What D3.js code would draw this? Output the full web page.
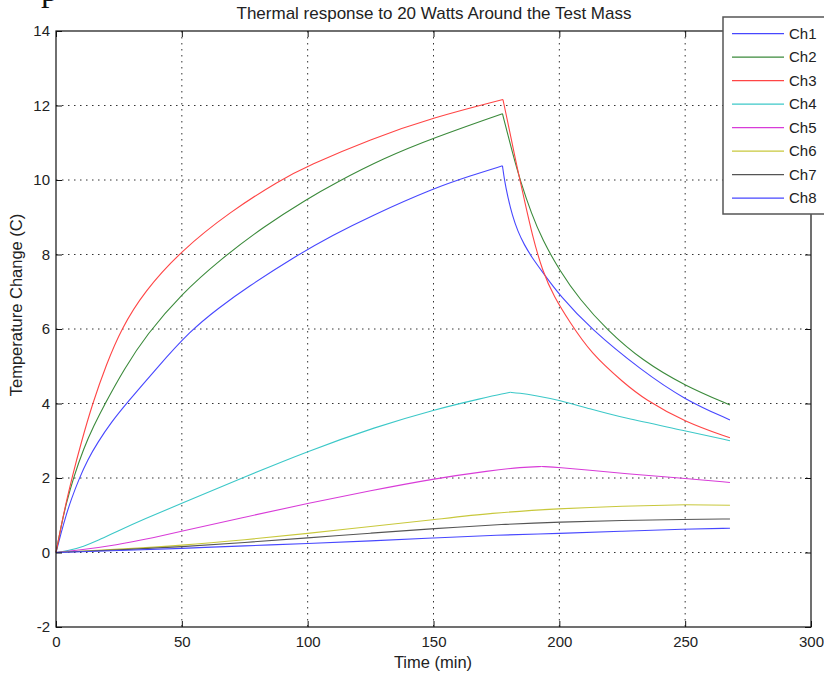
<!DOCTYPE html>
<meta charset="utf-8">
<style>
  body { margin: 0; background: #fff; }
  text { font-family: "Liberation Sans", Arial, sans-serif; fill: #222; }
</style>
<svg width="824" height="675"></svg>
<script src="https://d3js.org/d3.v7.min.js"></script>
<script>

// values: [time (min), temperature change (C)]
var ch1 = [[0,0],[2,0.52],[4,1.0],[6,1.42],[9.3,2.0],[12.5,2.48],[16.5,2.95],[22,3.5],[28,4.0],[40,4.95],[53.3,5.95],[64.7,6.57],[76,7.12],[95,7.95],[110,8.52],[125,9.03],[150,9.78],[165,10.12],[177.4,10.38],
           [178.2,9.99],[179.5,9.55],[181.3,9.05],[183.5,8.62],[186,8.27],[189,7.93],[193.3,7.53],[200,6.91],[212.5,6.0],[232.4,4.9],[250,4.09],[267.8,3.56]];
var ch2 = [[0,0],[2,0.7],[4,1.3],[6.9,2.0],[11,2.8],[15,3.4],[19.5,4.0],[27,4.92],[36,5.85],[50,6.95],[65,7.85],[82.5,8.75],[100,9.5],[111,9.92],[130,10.58],[150,11.13],[177.4,11.78],
           [181.3,10.75],[184.6,9.95],[188.9,9.1],[193.3,8.39],[200,7.58],[208,6.8],[219,5.97],[233,5.15],[250,4.47],[267.8,3.96]];
var ch3 = [[0,0],[2,0.7],[4,1.33],[6.3,2.0],[10,2.95],[14.5,4.0],[20,5.05],[25.9,6.0],[35,7.0],[49.7,8.1],[69.2,9.15],[89.1,10.0],[100,10.38],[125,11.1],[150,11.68],[177.6,12.16],
           [180,11.4],[183,10.4],[186,9.5],[189.3,8.5],[193.3,7.55],[198,6.85],[204,6.2],[212.5,5.35],[225.7,4.55],[233.7,4.12],[250,3.5],[267.8,3.08]];
var ch4 = [[0,0],[5,0.05],[10.9,0.16],[17,0.33],[24,0.56],[35,0.9],[50,1.32],[75,2.03],[100,2.72],[127,3.37],[150,3.83],[170,4.15],[178,4.27],[180.5,4.3],
           [184,4.28],[190,4.22],[200,4.09],[212,3.86],[225,3.62],[250,3.27],[267.8,3.0]];
var ch5 = [[0,0],[10,0.07],[24,0.2],[37.6,0.38],[50,0.57],[75,0.95],[100,1.32],[125,1.66],[150,1.98],[172.7,2.2],[185,2.29],[193,2.31],
           [200,2.28],[212,2.21],[225,2.12],[250,1.99],[267.8,1.88]];
var ch6 = [[0,0],[25,0.09],[50,0.19],[75,0.34],[100,0.51],[125,0.7],[150,0.88],[172.7,1.06],[200,1.18],[225,1.25],[250,1.28],[267.8,1.27]];
var ch7 = [[0,0],[25,0.07],[50,0.15],[75,0.27],[100,0.39],[125,0.52],[150,0.64],[178,0.76],[200,0.82],[225,0.86],[250,0.89],[267.8,0.9]];
var ch8 = [[0,0],[25,0.05],[50,0.11],[75,0.18],[100,0.24],[125,0.31],[150,0.39],[175,0.47],[200,0.51],[225,0.57],[250,0.63],[267.8,0.65]];

var names = ["Ch1", "Ch2", "Ch3", "Ch4", "Ch5", "Ch6", "Ch7", "Ch8"];
var series = [ch1, ch2, ch3, ch4, ch5, ch6, ch7, ch8];
var colors = ["#4747ff", "#3b8a3b", "#ff4545", "#3cc8c8", "#d83cd8", "#c8c83c", "#555555", "#4747ff"];

var xTicks = [0, 50, 100, 150, 200, 250, 300];
var yTicks = [-2, 0, 2, 4, 6, 8, 10, 12, 14];

var title = "Thermal response to 20 Watts Around the Test Mass";
var xLabel = "Time (min)";
var yLabel = "Temperature Change (C)";

(function() {

var svg = d3.select("svg"),
    pl = 56, pr = 811, pt = 31, pb = 627;

var x = d3.scaleLinear().domain([0, 300]).range([pl, pr]);
var y = d3.scaleLinear().domain([-2, 14]).range([pb, pt]);

// bit of the page text above the figure
svg.append("text")
    .attr("x", 41).attr("y", 1)
    .style("font-family", "'Liberation Serif', serif")
    .style("font-size", "34px")
    .style("fill", "#111")
    .text("p");

// grid
var grid = svg.append("g");
grid.selectAll(".gx")
    .data(xTicks.slice(1, -1))
  .enter().append("line")
    .attr("x1", function(d) { return x(d); }).attr("x2", function(d) { return x(d); })
    .attr("y1", pt).attr("y2", pb);
grid.selectAll(".gy")
    .data(yTicks.slice(1, -1))
  .enter().append("line")
    .attr("y1", function(d) { return y(d); }).attr("y2", function(d) { return y(d); })
    .attr("x1", pl).attr("x2", pr);
grid.selectAll("line")
    .attr("stroke", "#333")
    .attr("stroke-width", 1)
    .attr("stroke-dasharray", "1.5,4.5");

// curves, split at the peak so the kink stays sharp
var line = d3.line()
    .x(function(d) { return x(d[0]); })
    .y(function(d) { return y(d[1]); })
    .curve(d3.curveBasis);

series.forEach(function(s, i) {
  var p = d3.maxIndex(s, function(d) { return d[1]; });
  [s.slice(0, p + 1), s.slice(p)].forEach(function(part) {
    if (part.length < 2) return;
    svg.append("path")
        .attr("d", line(part))
        .attr("fill", "none")
        .attr("stroke", colors[i])
        .attr("stroke-width", 1.1);
  });
});

// axes, ticks pointing inward
function styleAxis(g) {
  g.select(".domain").remove();
  g.selectAll(".tick line").attr("stroke", "#111");
  g.selectAll(".tick text").style("font-size", "15px").attr("fill", "#222");
}

svg.append("g")
    .attr("transform", "translate(0," + pb + ")")
    .call(d3.axisBottom(x).tickValues(xTicks).tickSizeInner(-6).tickSizeOuter(0).tickPadding(9).tickFormat(String))
    .call(styleAxis);
svg.append("g")
    .attr("transform", "translate(0," + pt + ")")
    .call(d3.axisTop(x).tickValues(xTicks).tickSizeInner(-6).tickSizeOuter(0).tickFormat(""))
    .call(styleAxis);
svg.append("g")
    .attr("transform", "translate(" + pl + ",0)")
    .call(d3.axisLeft(y).tickValues(yTicks).tickSizeInner(-6).tickSizeOuter(0).tickPadding(6).tickFormat(String))
    .call(styleAxis);
svg.append("g")
    .attr("transform", "translate(" + pr + ",0)")
    .call(d3.axisRight(y).tickValues(yTicks).tickSizeInner(-6).tickSizeOuter(0).tickFormat(""))
    .call(styleAxis);

svg.append("rect")
    .attr("x", pl).attr("y", pt)
    .attr("width", pr - pl).attr("height", pb - pt)
    .attr("fill", "none")
    .attr("stroke", "#111")
    .attr("stroke-width", 1.2);

// labels
svg.append("text")
    .attr("x", 434).attr("y", 19)
    .attr("text-anchor", "middle")
    .style("font-size", "17px")
    .text(title);
svg.append("text")
    .attr("x", 433).attr("y", 668)
    .attr("text-anchor", "middle")
    .style("font-size", "16.5px")
    .text(xLabel);
svg.append("text")
    .attr("transform", "translate(22,305) rotate(-90)")
    .attr("text-anchor", "middle")
    .style("font-size", "16.5px")
    .text(yLabel);

// legend
var legend = svg.append("g");
legend.append("rect")
    .attr("x", 723).attr("y", 17)
    .attr("width", 130).attr("height", 197)
    .attr("fill", "#fff")
    .attr("stroke", "#555")
    .attr("stroke-width", 1.5);

var item = legend.selectAll(".item")
    .data(names)
  .enter().append("g")
    .attr("transform", function(d, i) { return "translate(0," + (33.7 + i * 23.5) + ")"; });

item.append("line")
    .attr("x1", 732).attr("x2", 784)
    .attr("stroke", function(d, i) { return colors[i]; })
    .attr("stroke-width", 1.2);

item.append("text")
    .attr("x", 789).attr("dy", "0.35em")
    .style("font-size", "15px")
    .text(function(d) { return d; });

})();

</script>
